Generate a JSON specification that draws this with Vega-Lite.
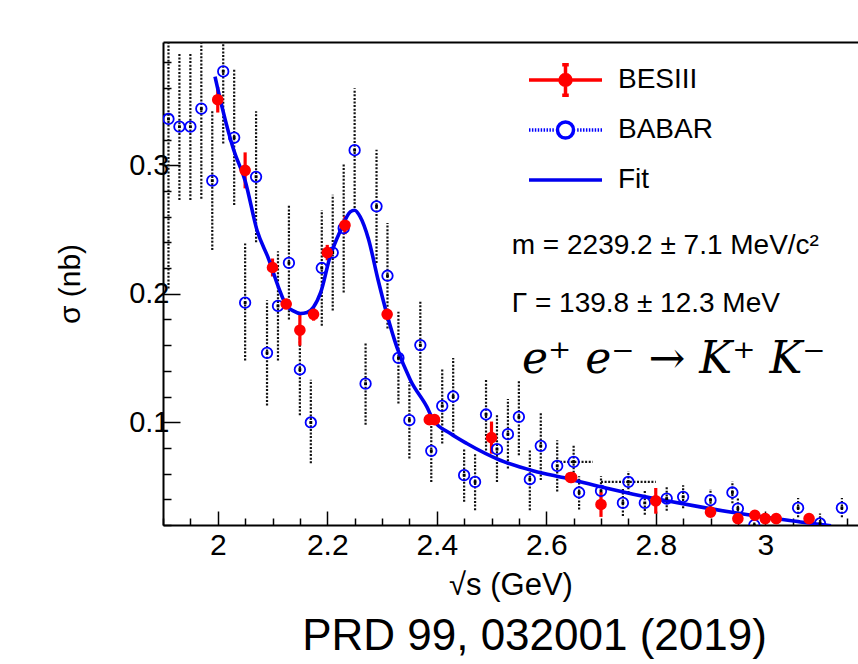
{
  "$schema": "https://vega.github.io/schema/vega-lite/v6.json",
  "autosize": {"type": "none"},
  "padding": {"left": 163, "top": 42, "right": 0, "bottom": 139},
  "width": 695,
  "height": 483,
  "background": "white",
  "config": {
    "view": {"stroke": null},
    "font": "Liberation Sans",
    "axis": {"labelFont": "Liberation Sans", "titleFont": "Liberation Sans", "labelColor": "black", "titleColor": "black", "domainColor": "black", "tickColor": "black", "grid": false, "titleFontWeight": "normal"}
  },
  "title": {"text": "PRD 99, 032001 (2019)", "orient": "bottom", "fontSize": 44, "font": "Liberation Sans", "fontWeight": "normal", "color": "black", "dx": 24, "offset": 15},
  "data": {"values": [
    {"series": "BESIII", "x": 2.000, "y": 0.351, "lo": 0.341, "hi": 0.361},
    {"series": "BESIII", "x": 2.050, "y": 0.296, "lo": 0.282, "hi": 0.310},
    {"series": "BESIII", "x": 2.100, "y": 0.2204, "lo": 0.2134, "hi": 0.2274},
    {"series": "BESIII", "x": 2.125, "y": 0.192, "lo": 0.188, "hi": 0.196},
    {"series": "BESIII", "x": 2.150, "y": 0.1716, "lo": 0.1596, "hi": 0.1836},
    {"series": "BESIII", "x": 2.175, "y": 0.184, "lo": 0.179, "hi": 0.189},
    {"series": "BESIII", "x": 2.200, "y": 0.232, "lo": 0.226, "hi": 0.238},
    {"series": "BESIII", "x": 2.2324, "y": 0.2533, "lo": 0.2463, "hi": 0.2603},
    {"series": "BESIII", "x": 2.3094, "y": 0.184, "lo": 0.181, "hi": 0.187},
    {"series": "BESIII", "x": 2.3864, "y": 0.102, "lo": 0.099, "hi": 0.105},
    {"series": "BESIII", "x": 2.396, "y": 0.102, "lo": 0.100, "hi": 0.104},
    {"series": "BESIII", "x": 2.500, "y": 0.088, "lo": 0.0755, "hi": 0.1005},
    {"series": "BESIII", "x": 2.6444, "y": 0.057, "lo": 0.054, "hi": 0.060},
    {"series": "BESIII", "x": 2.6464, "y": 0.057, "lo": 0.055, "hi": 0.059},
    {"series": "BESIII", "x": 2.700, "y": 0.036, "lo": 0.0263, "hi": 0.0457},
    {"series": "BESIII", "x": 2.800, "y": 0.0388, "lo": 0.0288, "hi": 0.0488},
    {"series": "BESIII", "x": 2.900, "y": 0.030, "lo": 0.027, "hi": 0.033},
    {"series": "BESIII", "x": 2.950, "y": 0.025, "lo": 0.021, "hi": 0.029},
    {"series": "BESIII", "x": 2.981, "y": 0.0276, "lo": 0.0246, "hi": 0.0306},
    {"series": "BESIII", "x": 3.000, "y": 0.025, "lo": 0.022, "hi": 0.028},
    {"series": "BESIII", "x": 3.020, "y": 0.025, "lo": 0.022, "hi": 0.028},
    {"series": "BESIII", "x": 3.080, "y": 0.025, "lo": 0.022, "hi": 0.028},
    {"series": "BABAR", "x": 1.91, "y": 0.336, "lo": 0.204, "hi": 0.468},
    {"series": "BABAR", "x": 1.93, "y": 0.330, "lo": 0.273, "hi": 0.387},
    {"series": "BABAR", "x": 1.95, "y": 0.330, "lo": 0.273, "hi": 0.387},
    {"series": "BABAR", "x": 1.97, "y": 0.344, "lo": 0.274, "hi": 0.414},
    {"series": "BABAR", "x": 1.99, "y": 0.288, "lo": 0.234, "hi": 0.342},
    {"series": "BABAR", "x": 2.01, "y": 0.373, "lo": 0.317, "hi": 0.429},
    {"series": "BABAR", "x": 2.03, "y": 0.3215, "lo": 0.269, "hi": 0.375},
    {"series": "BABAR", "x": 2.05, "y": 0.193, "lo": 0.148, "hi": 0.239},
    {"series": "BABAR", "x": 2.07, "y": 0.291, "lo": 0.240, "hi": 0.342},
    {"series": "BABAR", "x": 2.09, "y": 0.154, "lo": 0.113, "hi": 0.195},
    {"series": "BABAR", "x": 2.11, "y": 0.1905, "lo": 0.148, "hi": 0.233},
    {"series": "BABAR", "x": 2.13, "y": 0.224, "lo": 0.180, "hi": 0.269},
    {"series": "BABAR", "x": 2.15, "y": 0.141, "lo": 0.1055, "hi": 0.177},
    {"series": "BABAR", "x": 2.17, "y": 0.0998, "lo": 0.068, "hi": 0.133},
    {"series": "BABAR", "x": 2.19, "y": 0.220, "lo": 0.175, "hi": 0.265},
    {"series": "BABAR", "x": 2.21, "y": 0.232, "lo": 0.187, "hi": 0.277},
    {"series": "BABAR", "x": 2.23, "y": 0.251, "lo": 0.201, "hi": 0.301},
    {"series": "BABAR", "x": 2.25, "y": 0.3117, "lo": 0.264, "hi": 0.360},
    {"series": "BABAR", "x": 2.27, "y": 0.130, "lo": 0.098, "hi": 0.1625},
    {"series": "BABAR", "x": 2.29, "y": 0.268, "lo": 0.224, "hi": 0.312},
    {"series": "BABAR", "x": 2.31, "y": 0.214, "lo": 0.173, "hi": 0.255},
    {"series": "BABAR", "x": 2.33, "y": 0.150, "lo": 0.1146, "hi": 0.186},
    {"series": "BABAR", "x": 2.35, "y": 0.1016, "lo": 0.0717, "hi": 0.131},
    {"series": "BABAR", "x": 2.37, "y": 0.160, "lo": 0.125, "hi": 0.194},
    {"series": "BABAR", "x": 2.39, "y": 0.0777, "lo": 0.0535, "hi": 0.102},
    {"series": "BABAR", "x": 2.41, "y": 0.1127, "lo": 0.0834, "hi": 0.142},
    {"series": "BABAR", "x": 2.43, "y": 0.120, "lo": 0.090, "hi": 0.150},
    {"series": "BABAR", "x": 2.45, "y": 0.0588, "lo": 0.038, "hi": 0.0795},
    {"series": "BABAR", "x": 2.47, "y": 0.0535, "lo": 0.0315, "hi": 0.0756},
    {"series": "BABAR", "x": 2.49, "y": 0.106, "lo": 0.078, "hi": 0.134},
    {"series": "BABAR", "x": 2.51, "y": 0.079, "lo": 0.0535, "hi": 0.106},
    {"series": "BABAR", "x": 2.53, "y": 0.0907, "lo": 0.064, "hi": 0.118},
    {"series": "BABAR", "x": 2.55, "y": 0.1041, "lo": 0.0743, "hi": 0.133},
    {"series": "BABAR", "x": 2.57, "y": 0.0556, "lo": 0.0315, "hi": 0.078},
    {"series": "BABAR", "x": 2.59, "y": 0.0816, "lo": 0.055, "hi": 0.107},
    {"series": "BABAR", "x": 2.62, "y": 0.066, "lo": 0.046, "hi": 0.086},
    {"series": "BABAR", "x": 2.65, "y": 0.0691, "lo": 0.055, "hi": 0.083, "xlo": 2.625, "xhi": 2.685},
    {"series": "BABAR", "x": 2.66, "y": 0.0453, "lo": 0.032, "hi": 0.058},
    {"series": "BABAR", "x": 2.70, "y": 0.0465, "lo": 0.035, "hi": 0.058},
    {"series": "BABAR", "x": 2.74, "y": 0.0372, "lo": 0.027, "hi": 0.048},
    {"series": "BABAR", "x": 2.75, "y": 0.0535, "lo": 0.045, "hi": 0.062, "xlo": 2.70, "xhi": 2.80},
    {"series": "BABAR", "x": 2.78, "y": 0.0372, "lo": 0.028, "hi": 0.047},
    {"series": "BABAR", "x": 2.82, "y": 0.0406, "lo": 0.031, "hi": 0.050},
    {"series": "BABAR", "x": 2.85, "y": 0.0419, "lo": 0.033, "hi": 0.051},
    {"series": "BABAR", "x": 2.90, "y": 0.0393, "lo": 0.031, "hi": 0.048},
    {"series": "BABAR", "x": 2.94, "y": 0.0453, "lo": 0.037, "hi": 0.054},
    {"series": "BABAR", "x": 2.95, "y": 0.0328, "lo": 0.025, "hi": 0.041},
    {"series": "BABAR", "x": 2.98, "y": 0.0199, "lo": 0.012, "hi": 0.028},
    {"series": "BABAR", "x": 3.06, "y": 0.0333, "lo": 0.026, "hi": 0.041},
    {"series": "BABAR", "x": 3.10, "y": 0.0212, "lo": 0.014, "hi": 0.029},
    {"series": "BABAR", "x": 3.14, "y": 0.0333, "lo": 0.026, "hi": 0.041},
    {"series": "Fit", "x": 1.995, "y": 0.369},
    {"series": "Fit", "x": 2.008, "y": 0.345},
    {"series": "Fit", "x": 2.029, "y": 0.312},
    {"series": "Fit", "x": 2.050, "y": 0.288},
    {"series": "Fit", "x": 2.072, "y": 0.249},
    {"series": "Fit", "x": 2.093, "y": 0.227},
    {"series": "Fit", "x": 2.111, "y": 0.205},
    {"series": "Fit", "x": 2.125, "y": 0.191},
    {"series": "Fit", "x": 2.138, "y": 0.1866},
    {"series": "Fit", "x": 2.151, "y": 0.1846},
    {"series": "Fit", "x": 2.163, "y": 0.1854},
    {"series": "Fit", "x": 2.175, "y": 0.1897},
    {"series": "Fit", "x": 2.188, "y": 0.201},
    {"series": "Fit", "x": 2.205, "y": 0.2286},
    {"series": "Fit", "x": 2.224, "y": 0.249},
    {"series": "Fit", "x": 2.242, "y": 0.2637},
    {"series": "Fit", "x": 2.250, "y": 0.265},
    {"series": "Fit", "x": 2.260, "y": 0.260},
    {"series": "Fit", "x": 2.275, "y": 0.243},
    {"series": "Fit", "x": 2.293, "y": 0.2105},
    {"series": "Fit", "x": 2.309, "y": 0.184},
    {"series": "Fit", "x": 2.327, "y": 0.1586},
    {"series": "Fit", "x": 2.352, "y": 0.1327},
    {"series": "Fit", "x": 2.382, "y": 0.1119},
    {"series": "Fit", "x": 2.394, "y": 0.1016},
    {"series": "Fit", "x": 2.425, "y": 0.0912},
    {"series": "Fit", "x": 2.455, "y": 0.0834},
    {"series": "Fit", "x": 2.516, "y": 0.0704},
    {"series": "Fit", "x": 2.577, "y": 0.0621},
    {"series": "Fit", "x": 2.638, "y": 0.0562},
    {"series": "Fit", "x": 2.699, "y": 0.0497},
    {"series": "Fit", "x": 2.759, "y": 0.044},
    {"series": "Fit", "x": 2.820, "y": 0.0388},
    {"series": "Fit", "x": 2.881, "y": 0.0341},
    {"series": "Fit", "x": 2.942, "y": 0.0297},
    {"series": "Fit", "x": 3.003, "y": 0.0258},
    {"series": "Fit", "x": 3.064, "y": 0.0224},
    {"series": "Fit", "x": 3.120, "y": 0.0193}
  ]},
  "layer": [
    {
      "transform": [{"filter": "datum.series === 'BABAR'"}],
      "mark": {"type": "rule", "strokeDash": [2, 1.6], "strokeWidth": 2.2, "color": "#111111", "clip": true},
      "encoding": {
        "x": {"field": "x", "type": "quantitative", "scale": {"domain": [1.9, 3.1694], "nice": false, "zero": false},
          "axis": {"orient": "bottom", "values": [2, 2.2, 2.4, 2.6, 2.8, 3], "format": "~g", "labelFontSize": 30, "tickSize": -14, "tickWidth": 1.5, "domainWidth": 2, "labelPadding": 19, "title": "√s (GeV)", "titleFontSize": 31, "titlePadding": 10}},
        "y": {"field": "lo", "type": "quantitative", "scale": {"domain": [0.02, 0.3959], "nice": false, "zero": false},
          "axis": {"orient": "left", "values": [0.1, 0.2, 0.3], "format": ".1f", "labelFontSize": 29, "tickSize": -17, "tickWidth": 1.5, "domainWidth": 2, "labelPadding": 11, "title": "σ (nb)", "titleFontSize": 30, "titlePadding": 43}},
        "y2": {"field": "hi"}
      }
    },
    {
      "transform": [{"filter": "datum.series === 'BABAR' && isValid(datum.xlo)"}],
      "mark": {"type": "rule", "strokeDash": [2, 1.6], "strokeWidth": 2.2, "color": "#111111", "clip": true},
      "encoding": {
        "x": {"field": "xlo", "type": "quantitative", "scale": {"domain": [1.9, 3.1694], "nice": false, "zero": false}, "axis": null},
        "x2": {"field": "xhi"},
        "y": {"field": "y", "type": "quantitative", "scale": {"domain": [0.02, 0.3959], "nice": false, "zero": false}, "axis": null}
      }
    },
    {
      "transform": [{"filter": "datum.series === 'BESIII'"}],
      "mark": {"type": "rule", "strokeWidth": 3.2, "color": "#ff0000", "clip": true},
      "encoding": {
        "x": {"field": "x", "type": "quantitative", "scale": {"domain": [1.9, 3.1694], "nice": false, "zero": false}, "axis": null},
        "y": {"field": "lo", "type": "quantitative", "scale": {"domain": [0.02, 0.3959], "nice": false, "zero": false}, "axis": null},
        "y2": {"field": "hi"}
      }
    },
    {
      "transform": [{"filter": "datum.series === 'Fit'"}],
      "mark": {"type": "line", "strokeWidth": 3.6, "color": "#0000ee", "clip": true, "interpolate": "monotone"},
      "encoding": {
        "x": {"field": "x", "type": "quantitative", "scale": {"domain": [1.9, 3.1694], "nice": false, "zero": false},
          "axis": {"orient": "top", "labels": false, "ticks": false, "title": null, "domainWidth": 2}},
        "y": {"field": "y", "type": "quantitative", "scale": {"domain": [0.02, 0.3959], "nice": false, "zero": false}, "axis": null}
      }
    },
    {
      "transform": [{"filter": "datum.series === 'BABAR'"}],
      "mark": {"type": "point", "filled": false, "stroke": "#0000ff", "strokeWidth": 1.8, "size": 110, "opacity": 1, "clip": true},
      "encoding": {
        "x": {"field": "x", "type": "quantitative", "scale": {"domain": [1.9, 3.1694], "nice": false, "zero": false},
          "axis": {"orient": "bottom", "values": [1.9, 1.95, 2.05, 2.1, 2.15, 2.25, 2.3, 2.35, 2.45, 2.5, 2.55, 2.65, 2.7, 2.75, 2.85, 2.9, 2.95, 3.05, 3.1, 3.15], "labels": false, "tickSize": -7, "tickWidth": 1.5, "domain": false, "title": null}},
        "y": {"field": "y", "type": "quantitative", "scale": {"domain": [0.02, 0.3959], "nice": false, "zero": false},
          "axis": {"orient": "left", "values": [0.02, 0.04, 0.06, 0.08, 0.12, 0.14, 0.16, 0.18, 0.22, 0.24, 0.26, 0.28, 0.32, 0.34, 0.36, 0.38], "labels": false, "tickSize": -8, "tickWidth": 1.5, "domain": false, "title": null}}
      }
    },
    {
      "transform": [{"filter": "datum.series === 'BABAR'"}],
      "mark": {"type": "point", "shape": "square", "filled": true, "color": "#000000", "size": 8, "opacity": 1, "clip": true},
      "encoding": {
        "x": {"field": "x", "type": "quantitative", "scale": {"domain": [1.9, 3.1694], "nice": false, "zero": false}, "axis": null},
        "y": {"field": "y", "type": "quantitative", "scale": {"domain": [0.02, 0.3959], "nice": false, "zero": false}, "axis": null}
      }
    },
    {
      "transform": [{"filter": "datum.series === 'BESIII'"}],
      "mark": {"type": "point", "shape": "circle", "filled": true, "color": "#ff0000", "size": 135, "opacity": 1, "clip": true},
      "encoding": {
        "x": {"field": "x", "type": "quantitative", "scale": {"domain": [1.9, 3.1694], "nice": false, "zero": false}, "axis": null},
        "y": {"field": "y", "type": "quantitative", "scale": {"domain": [0.02, 0.3959], "nice": false, "zero": false}, "axis": null}
      }
    },
    {
      "mark": {"type": "point", "filled": false, "opacity": 0},
      "encoding": {
        "x": {"field": "x", "type": "quantitative", "scale": {"domain": [1.9, 3.1694], "nice": false, "zero": false}, "axis": null},
        "y": {"field": "y", "type": "quantitative", "scale": {"domain": [0.02, 0.3959], "nice": false, "zero": false}, "axis": null},
        "color": {"field": "series", "type": "nominal",
          "scale": {"domain": ["BESIII", "BABAR", "Fit"], "range": ["#ff0000", "#0000ff", "#0000ee"]},
          "legend": {"orient": "none", "legendX": 364, "legendY": 13, "title": null, "padding": 0,
            "symbolSize": 5329, "symbolStrokeWidth": 3.5, "symbolOpacity": 1,
            "labelFont": "Liberation Sans", "labelFontSize": 28, "labelColor": "black", "labelOffset": 14,
            "clipHeight": 50, "rowPadding": 0}},
        "shape": {"field": "series", "type": "nominal",
          "scale": {"domain": ["BESIII", "BABAR", "Fit"], "range": [
            "M-1,0H1M0,-0.42V0.42M-0.09,-0.42H0.09M-0.09,0.42H0.09M0.15,0A0.15,0.15,0,1,1,-0.15,0A0.15,0.15,0,1,1,0.15,0ZM0.09,0A0.09,0.09,0,1,1,-0.09,0A0.09,0.09,0,1,1,0.09,0ZM0.03,0A0.03,0.03,0,1,1,-0.03,0A0.03,0.03,0,1,1,0.03,0Z",
            "M-1,0H-0.96M-0.92,0H-0.88M-0.84,0H-0.8M-0.76,0H-0.72M-0.68,0H-0.64M-0.6,0H-0.56M-0.52,0H-0.48M-0.44,0H-0.4M-0.36,0H-0.32M0.32,0H0.36M0.4,0H0.44M0.48,0H0.52M0.56,0H0.6M0.64,0H0.68M0.72,0H0.76M0.8,0H0.84M0.88,0H0.92M0.96,0H1M0.22,0A0.22,0.22,0,1,1,-0.22,0A0.22,0.22,0,1,1,0.22,0Z",
            "M-1,0H1"]},
          "legend": {"orient": "none", "legendX": 364, "legendY": 13, "title": null, "padding": 0,
            "symbolSize": 5329, "symbolStrokeWidth": 3.5, "symbolOpacity": 1,
            "labelFont": "Liberation Sans", "labelFontSize": 28, "labelColor": "black", "labelOffset": 14,
            "clipHeight": 50, "rowPadding": 0}}
      }
    },
    {
      "data": {"values": [{"label": "m = 2239.2 ± 7.1 MeV/c²", "px": 2.537, "py": 0.2307}, {"label": "Γ = 139.8 ± 12.3 MeV", "px": 2.537, "py": 0.1858}]},
      "mark": {"type": "text", "align": "left", "baseline": "alphabetic", "fontSize": 28, "font": "Liberation Sans", "color": "black"},
      "encoding": {
        "text": {"field": "label"},
        "x": {"field": "px", "type": "quantitative", "scale": {"domain": [1.9, 3.1694], "nice": false, "zero": false}, "axis": null},
        "y": {"field": "py", "type": "quantitative", "scale": {"domain": [0.02, 0.3959], "nice": false, "zero": false}, "axis": null}
      }
    },
    {
      "data": {"values": [{"label": "e⁺ e⁻ → K⁺ K⁻", "px": 2.5556, "py": 0.1381}]},
      "mark": {"type": "text", "align": "left", "baseline": "alphabetic", "fontSize": 44, "font": "DejaVu Serif", "fontStyle": "italic", "color": "black"},
      "encoding": {
        "text": {"field": "label"},
        "x": {"field": "px", "type": "quantitative", "scale": {"domain": [1.9, 3.1694], "nice": false, "zero": false}, "axis": null},
        "y": {"field": "py", "type": "quantitative", "scale": {"domain": [0.02, 0.3959], "nice": false, "zero": false}, "axis": null}
      }
    }
  ],
  "resolve": {"axis": {"x": "independent", "y": "independent"}}
}
